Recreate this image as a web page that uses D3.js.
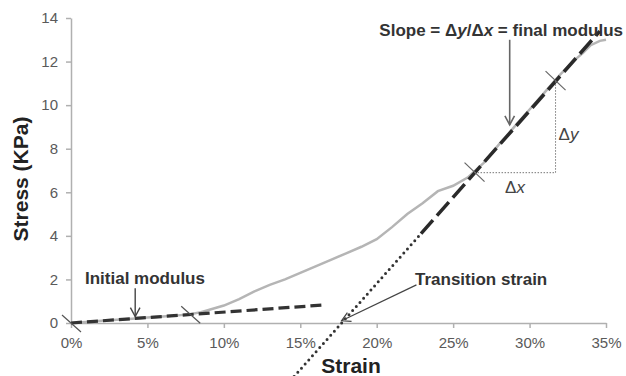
<!DOCTYPE html>
<html>
<head>
<meta charset="utf-8">
<script src="https://cdn.jsdelivr.net/npm/d3@7"></script>
<style>
  body { margin: 0; background: #fff; }
  svg { font-family: "Liberation Sans", Arial, sans-serif; }
  .axis path, .axis line { stroke: #b0b0b0; stroke-width: 1.5; }
  .axis text { fill: #5a5a5a; font-size: 15px; }
  .note { font-weight: bold; font-size: 17px; fill: #333; }
</style>
</head>
<body>
<svg id="chart" width="626" height="376"></svg>
<script>
// measured stress-strain curve (strain in %, stress in KPa)
const curveStrain = [0, 1, 2, 3, 4, 5, 6, 7, 7.8, 8.5, 9, 10, 11, 12, 13, 14, 15, 16, 17, 18, 19, 20, 21, 22, 23, 24, 25, 26, 27, 28, 29, 30, 31, 32, 33, 33.5, 34, 34.6, 35];
const curveStress = [0, 0.05, 0.1, 0.15, 0.2, 0.25, 0.3, 0.35, 0.4, 0.5, 0.6, 0.8, 1.1, 1.45, 1.75, 2.0, 2.3, 2.6, 2.9, 3.2, 3.5, 3.85, 4.4, 5.0, 5.5, 6.05, 6.3, 6.7, 7.35, 8.2, 9.0, 9.8, 10.6, 11.4, 12.1, 12.4, 12.75, 12.95, 13.0];

// fitted lines
const initStrain = [0, 16.6];
const initStress = [0, 0.83];
const finalStrain = [22.9, 34.6];
const finalStress = [4.1, 13.4];
const extStrain = [14.6, 22.9];
const extStress = [-2.45, 4.1];

// marked points
const initMarks = [[0, 0], [7.8, 0.4]];
const finalMarks = [[26.4, 6.9], [31.7, 11.1]];

const xTicks = [0, 5, 10, 15, 20, 25, 30, 35];
const yTicks = [0, 2, 4, 6, 8, 10, 12, 14];

const svg = d3.select("#chart");
const x = d3.scaleLinear().domain([0, 35]).range([71, 606]);
const y = d3.scaleLinear().domain([0, 14]).range([323, 18]);

svg.append("g").attr("class", "axis")
    .attr("transform", "translate(0,323)")
    .call(d3.axisBottom(x).tickValues(xTicks).tickFormat(d => d + "%").tickSize(5).tickPadding(9).tickSizeOuter(0));
svg.append("g").attr("class", "axis")
    .attr("transform", "translate(71,0)")
    .call(d3.axisLeft(y).tickValues(yTicks).tickSize(5).tickPadding(8).tickSizeOuter(0));

const line = d3.line().x(d => x(d[0])).y(d => y(d[1]));
const pairs = (a, b) => a.map((v, i) => [v, b[i]]);

// grey measured curve
svg.append("path")
    .attr("d", line(pairs(curveStrain, curveStress)))
    .attr("fill", "none").attr("stroke", "#b5b5b5").attr("stroke-width", 2.5);

// initial modulus
svg.append("path")
    .attr("d", line(pairs(initStrain, initStress)))
    .attr("fill", "none").attr("stroke", "#333").attr("stroke-width", 3.2)
    .attr("stroke-dasharray", "11,5");

// extension to transition strain
svg.append("path")
    .attr("d", line(pairs(extStrain, extStress)))
    .attr("fill", "none").attr("stroke", "#333").attr("stroke-width", 3)
    .attr("stroke-linecap", "round").attr("stroke-dasharray", "0,5.5");

// final modulus
svg.append("path")
    .attr("d", line(pairs(finalStrain, finalStress)))
    .attr("fill", "none").attr("stroke", "#2a2a2a").attr("stroke-width", 3.5)
    .attr("stroke-dasharray", "18,6");

// little cross marks
svg.selectAll(".imark").data(initMarks).join("line")
    .attr("x1", d => x(d[0]) - 9).attr("y1", d => y(d[1]) - 8)
    .attr("x2", d => x(d[0]) + 10).attr("y2", d => y(d[1]) + 9)
    .attr("stroke", "#555").attr("stroke-width", 1.2);
svg.selectAll(".fmark").data(finalMarks).join("line")
    .attr("x1", d => x(d[0]) - 10).attr("y1", d => y(d[1]) - 10)
    .attr("x2", d => x(d[0]) + 10).attr("y2", d => y(d[1]) + 9)
    .attr("stroke", "#666").attr("stroke-width", 1.2);

// delta triangle
const [p1, p2] = finalMarks;
svg.append("path")
    .attr("d", line([p1, [p2[0], p1[1]], p2]))
    .attr("fill", "none").attr("stroke", "#777").attr("stroke-width", 1)
    .attr("stroke-dasharray", "1.5,1.5");

const dy = svg.append("text").attr("x", x(p2[0]) + 3).attr("y", 140)
    .attr("font-size", 17).attr("fill", "#444");
dy.append("tspan").text("Δ");
dy.append("tspan").attr("font-style", "italic").text("y");
const dx = svg.append("text").attr("x", (x(p1[0]) + x(p2[0])) / 2).attr("y", 193)
    .attr("text-anchor", "middle").attr("font-size", 17).attr("fill", "#444");
dx.append("tspan").text("Δ");
dx.append("tspan").attr("font-style", "italic").text("x");

// arrows
function arrow(from, to, color, w) {
    const ax = x(from[0]), ay = y(from[1]), bx = x(to[0]), by = y(to[1]);
    const a = Math.atan2(by - ay, bx - ax);
    svg.append("line").attr("x1", ax).attr("y1", ay).attr("x2", bx).attr("y2", by)
        .attr("stroke", color).attr("stroke-width", w);
    const h = 10, s = 0.5;
    svg.append("path")
        .attr("d", `M${bx - h * Math.cos(a - s)},${by - h * Math.sin(a - s)}L${bx},${by}L${bx - h * Math.cos(a + s)},${by - h * Math.sin(a + s)}`)
        .attr("fill", "none").attr("stroke", color).attr("stroke-width", w);
}
arrow([28.7, 13.0], [28.7, 9.1], "#666", 1.6);
arrow([4.2, 1.6], [4.2, 0.3], "#444", 1.4);
arrow([22.6, 1.75], [17.7, 0.1], "#444", 1.2);

// labels
const slope = svg.append("text").attr("class", "note").attr("x", 623).attr("y", 36).attr("text-anchor", "end");
slope.append("tspan").text("Slope = Δ");
slope.append("tspan").attr("font-style", "italic").text("y");
slope.append("tspan").text("/Δ");
slope.append("tspan").attr("font-style", "italic").text("x");
slope.append("tspan").text(" = final modulus");

svg.append("text").attr("class", "note").attr("x", 85).attr("y", 284).text("Initial modulus");
svg.append("text").attr("class", "note").attr("x", 415).attr("y", 285).text("Transition strain");

svg.append("text").attr("x", 351).attr("y", 373).attr("text-anchor", "middle")
    .attr("font-weight", "bold").attr("font-size", 21).attr("fill", "#222").text("Strain");
svg.append("text").attr("transform", "translate(28,179) rotate(-90)").attr("text-anchor", "middle")
    .attr("font-weight", "bold").attr("font-size", 21).attr("fill", "#222").text("Stress (KPa)");
</script>
</body>
</html>
